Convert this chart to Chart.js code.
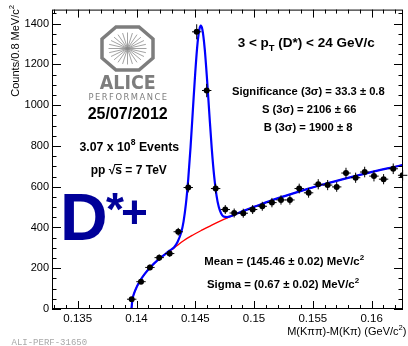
<!DOCTYPE html>
<html><head><meta charset="utf-8">
<script src="https://cdn.jsdelivr.net/npm/chart.js@4/dist/chart.umd.min.js"></script>
<style>html,body{margin:0;padding:0;background:#fff;overflow:hidden}canvas{display:block}</style>
</head><body>
<canvas id="c" width="408" height="346"></canvas>
<script>
// ---- data ----
const massX = [0.13959,0.14038,0.14114,0.14193,0.14282,0.14355,0.1444,0.14512,0.14597,0.14673,
               0.14755,0.14831,0.14908,0.14988,0.1507,0.15152,0.15229,0.15305,0.15384,0.15464,
               0.15546,0.15626,0.15703,0.15782,0.15864,0.15941,0.1602,0.16102,0.16184,0.16264];
const counts = [48,134,204,252,272,379,596,1360,1072,591,
                488,471,470,488,504,522,535,535,591,570,
                612,608,599,667,644,672,652,637,688,656];
const countErr = [7,11,14,16,16,19,24,37,33,24,
                  22,22,22,22,22,23,23,23,24,24,
                  25,25,24,26,25,26,26,25,26,26];
const binHalfWidth = 0.0004;

// total fit (signal + background), blue
const fitX = [0.13957,0.13965,0.1398,0.1400,0.1403,0.1407,0.1412,0.1418,0.1425,0.1428,
              0.1432,0.1435,0.1438,0.1440,0.1442,0.1444,0.1446,0.1448,0.1450,0.1452,
              0.14535,0.14546,0.1456,0.1458,0.1460,0.1462,0.1464,0.1466,0.1468,0.1470,
              0.1472,0.1474,0.1477,0.1480,0.1485,0.1490,0.1500,0.1515,0.1530,0.1545,
              0.1560,0.1575,0.1590,0.1605,0.1620,0.16268];
const fitY = [0,46,78,106,138,172,206,240,272,286,
              303,330,375,429,514,637,797,982,1163,1309,
              1372,1390,1372,1278,1127,953,788,654,559,500,
              469,454,451,455,467,479,501,533,561,588,
              613,636,658,679,698,707];
// background only, red
const bgX = [0.13957,0.13965,0.1398,0.1400,0.1403,0.1407,0.1412,0.1418,0.1425,0.1432,
             0.1440,0.1448,0.1456,0.1464,0.1472,0.1480,0.1490,0.1500,0.1515,0.1530,
             0.1545,0.1560,0.1575,0.1590,0.1605,0.1620,0.16268];
const bgY = [0,46,78,106,138,172,206,240,272,300,
             335,363,388,412,434,454,479,501,533,561,
             588,613,636,658,679,698,707];

const xTickVals = [0.135,0.14,0.145,0.15,0.155,0.16];
const xTickLabels = ['0.135','0.14','0.145','0.15','0.155','0.16'];
const yTickVals = [0,200,400,600,800,1000,1200,1400];
const yTickLabels = ['0','200','400','600','800','1000','1200','1400'];
const xRange = [0.13281, 0.16267];
const yRange = [0, 1469];

// ---- drawing helpers ----
const FONT = "'Liberation Sans', Arial, Helvetica, sans-serif";
function rich(ctx, segs, x, y, size, weight, align, color) {
  const parts = segs.map(([t, m]) => {
    const s = m ? size * 0.7 : size;
    ctx.font = `${weight} ${s}px ${FONT}`;
    return {t, m, s, w: ctx.measureText(t).width};
  });
  const total = parts.reduce((a, p) => a + p.w, 0);
  let cx = align === 'center' ? x - total / 2 : align === 'right' ? x - total : x;
  ctx.fillStyle = color; ctx.textBaseline = 'alphabetic'; ctx.textAlign = 'left';
  for (const p of parts) {
    ctx.font = `${weight} ${p.s}px ${FONT}`;
    const dy = p.m === 1 ? -size * 0.42 : p.m === 2 ? size * 0.3 : 0;
    ctx.fillText(p.t, cx, y + dy);
    p.x = cx; cx += p.w;
  }
  return parts;
}

const decoPlugin = {
  id: 'deco',
  afterDatasetsDraw(chart) {
    const ctx = chart.ctx, xs = chart.scales.x, ys = chart.scales.y;
    // error bars
    ctx.save();
    ctx.strokeStyle = '#000'; ctx.lineWidth = 1;
    massX.forEach((m, i) => {
      const px = xs.getPixelForValue(m), py = ys.getPixelForValue(counts[i]);
      const x0 = xs.getPixelForValue(m - binHalfWidth), x1 = xs.getPixelForValue(m + binHalfWidth);
      const y0 = ys.getPixelForValue(counts[i] - countErr[i]), y1 = ys.getPixelForValue(counts[i] + countErr[i]);
      ctx.beginPath();
      ctx.moveTo(x0, py); ctx.lineTo(x1, py);
      ctx.moveTo(px, y0); ctx.lineTo(px, y1);
      ctx.stroke();
    });
    ctx.restore();
  },
  afterDraw(chart) {
    const ctx = chart.ctx, a = chart.chartArea, xs = chart.scales.x, ys = chart.scales.y;
    ctx.save();
    // frame
    ctx.strokeStyle = '#000'; ctx.lineWidth = 1;
    ctx.strokeRect(a.left + 0.5, a.top + 0.5, a.right - a.left - 1, a.bottom - a.top - 1);
    // ticks (inward, all four sides)
    ctx.beginPath();
    for (let k = 133; k <= 162; k++) {
      const v = k / 1000, px = Math.round(xs.getPixelForValue(v)) + 0.5;
      const len = (k % 5 === 0) ? 8 : 4;
      ctx.moveTo(px, a.bottom); ctx.lineTo(px, a.bottom - len);
      ctx.moveTo(px, a.top); ctx.lineTo(px, a.top + len);
    }
    for (let v = 0; v <= 1450; v += 50) {
      const py = Math.round(ys.getPixelForValue(v)) + 0.5;
      const len = (v % 200 === 0) ? 9 : 4.5;
      ctx.moveTo(a.left, py); ctx.lineTo(a.left + len, py);
      ctx.moveTo(a.right, py); ctx.lineTo(a.right - len, py);
    }
    ctx.stroke();

    // axis titles
    rich(ctx, [['M(K\u03c0\u03c0)-M(K\u03c0) (GeV/c', 0], ['2', 1], [')', 0]], 406.5, 334.5, 11, 'normal', 'right', '#000');
    ctx.save();
    ctx.translate(19, 0); ctx.rotate(-Math.PI / 2);
    rich(ctx, [['Counts/0.8 MeV/c', 0], ['2', 1]], -5, 0, 11, 'normal', 'right', '#000');
    ctx.restore();

    // ALICE logo
    const cx = 127.5, cy = 48.5;
    ctx.strokeStyle = '#7d7d7d'; ctx.lineWidth = 3.5; ctx.lineJoin = 'miter';
    ctx.beginPath();
    const oct = [[116,27],[139,27],[153,39],[153,58],[139,70],[116,70],[102,58],[102,39]];
    oct.forEach(([x, y], i) => i ? ctx.lineTo(x, y) : ctx.moveTo(x, y));
    ctx.closePath(); ctx.stroke();
    ctx.lineWidth = 0.8; ctx.strokeStyle = '#8a8a8a';
    ctx.beginPath();
    for (let k = 0; k < 24; k++) {
      const ang = k * Math.PI / 12;
      ctx.moveTo(cx, cy);
      ctx.lineTo(cx + 19 * Math.cos(ang), cy + 16 * Math.sin(ang));
    }
    ctx.stroke();
    ctx.fillStyle = '#7d7d7d'; ctx.textAlign = 'center'; ctx.textBaseline = 'alphabetic';
    ctx.font = `bold 20px 'DejaVu Sans', ${FONT}`;
    ctx.fillText('ALICE', 127.7, 89, 56);
    ctx.font = `9px 'DejaVu Sans', ${FONT}`;
    try { ctx.letterSpacing = '1.6px'; } catch (e) {}
    ctx.fillText('PERFORMANCE', 128.5, 100, 80);
    try { ctx.letterSpacing = '0px'; } catch (e) {}
    ctx.fillStyle = '#000';
    ctx.font = `bold 16px ${FONT}`;
    ctx.fillText('25/07/2012', 127.7, 118.5);

    // left info block
    rich(ctx, [['3.07 x 10', 0], ['8', 1], [' Events', 0]], 129.3, 150.5, 12.3, 'bold', 'center', '#000');
    const pp = rich(ctx, [['pp ', 0], ['\u221a', 0], ['s', 0], [' = 7 TeV', 0]], 128.8, 174, 12, 'bold', 'center', '#000');
    ctx.strokeStyle = '#000'; ctx.lineWidth = 1;
    ctx.beginPath(); ctx.moveTo(pp[1].x + pp[1].w - 1, 164.5); ctx.lineTo(pp[2].x + pp[2].w, 164.5); ctx.stroke();

    // D*+
    ctx.fillStyle = '#000099'; ctx.textAlign = 'left';
    ctx.font = `bold 66px ${FONT}`;
    ctx.fillText('D', 60, 240);
    ctx.font = `bold 46px ${FONT}`;
    ctx.fillText('*', 106, 225);
    ctx.fillText('+', 121, 227.5);

    // right info block
    rich(ctx, [['3 < p', 0], ['T', 2], [' (D*) < 24 GeV/c', 0]], 306.2, 47, 13.5, 'bold', 'center', '#000');
    rich(ctx, [['Significance (3\u03c3) = 33.3 \u00b1 0.8', 0]], 308.3, 94.5, 11.2, 'bold', 'center', '#000');
    rich(ctx, [['S (3\u03c3) = 2106 \u00b1 66', 0]], 309.2, 112.8, 11.2, 'bold', 'center', '#000');
    rich(ctx, [['B (3\u03c3) = 1900 \u00b1 8', 0]], 308, 131, 11.2, 'bold', 'center', '#000');
    rich(ctx, [['Mean = (145.46 \u00b1 0.02) MeV/c', 0], ['2', 1]], 284.2, 264.7, 11.4, 'bold', 'center', '#000');
    rich(ctx, [['Sigma = (0.67 \u00b1 0.02) MeV/c', 0], ['2', 1]], 283, 288, 11.4, 'bold', 'center', '#000');

    // figure id
    ctx.fillStyle = '#a8a8a8'; ctx.textAlign = 'left';
    ctx.font = `9px 'Liberation Mono', 'DejaVu Sans Mono', monospace`;
    ctx.fillText('ALI-PERF-31650', 11.5, 344.5);
    ctx.restore();
  }
};

const toXY = (xa, ya) => xa.map((x, i) => ({x, y: ya[i]}));

new Chart(document.getElementById('c'), {
  type: 'scatter',
  data: {
    datasets: [
      { label: 'data', data: toXY(massX, counts), showLine: false, pointRadius: 3,
        pointBackgroundColor: '#000', pointBorderColor: '#000', pointBorderWidth: 0, order: 0 },
      { label: 'fit', data: toXY(fitX, fitY), showLine: true, pointRadius: 0, borderColor: '#0000ff',
        borderWidth: 2.2, cubicInterpolationMode: 'monotone', fill: false, order: 1 },
      { label: 'background', data: toXY(bgX, bgY), showLine: true, pointRadius: 0, borderColor: '#ff0000',
        borderWidth: 1.4, cubicInterpolationMode: 'monotone', fill: false, order: 2 }
    ]
  },
  options: {
    responsive: false, animation: false, devicePixelRatio: 1, events: [],
    layout: { padding: { top: 5, right: 5, left: 0, bottom: 0 } },
    plugins: { legend: { display: false }, tooltip: { enabled: false }, title: { display: false } },
    scales: {
      x: {
        type: 'linear', min: xRange[0], max: xRange[1],
        grid: { display: false, drawTicks: false }, border: { display: false },
        afterFit(s) { s.height = 37; },
        afterBuildTicks(s) { s.ticks = xTickVals.map(v => ({value: v})); },
        ticks: { color: '#000', font: { family: FONT, size: 11.5 }, padding: 3, maxRotation: 0, autoSkip: false,
                 callback: (v) => { const i = xTickVals.findIndex(t => Math.abs(t - v) < 1e-9); return i >= 0 ? xTickLabels[i] : ''; } }
      },
      y: {
        type: 'linear', min: yRange[0], max: yRange[1],
        grid: { display: false, drawTicks: false }, border: { display: false },
        afterFit(s) { s.width = 52; },
        afterBuildTicks(s) { s.ticks = yTickVals.map(v => ({value: v})); },
        ticks: { color: '#000', font: { family: FONT, size: 11 }, padding: 3, autoSkip: false,
                 callback: (v) => { const i = yTickVals.indexOf(v); return i >= 0 ? yTickLabels[i] : ''; } }
      }
    }
  },
  plugins: [decoPlugin]
});
</script>
</body></html>
